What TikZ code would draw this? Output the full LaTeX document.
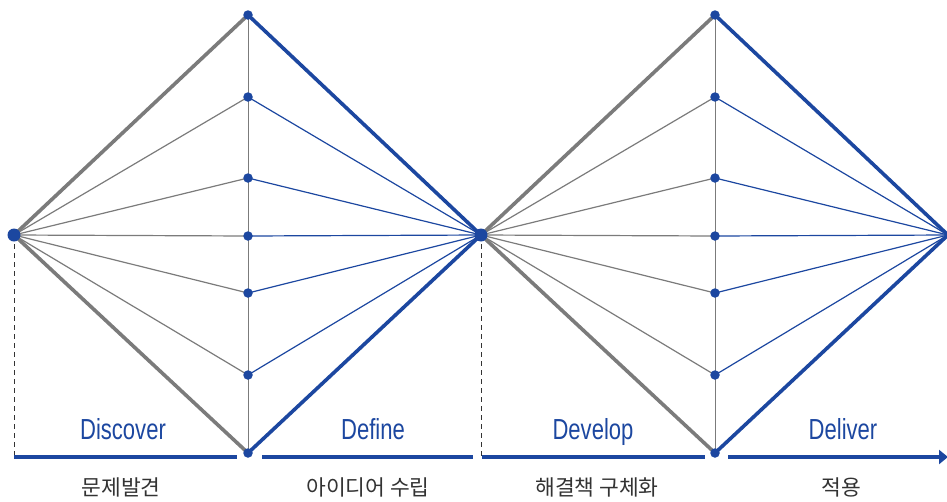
\documentclass[tikz,border=0pt]{standalone}
\usepackage{fontspec}
\setmainfont{Liberation Sans}
\newfontfamily\latn[FakeStretch=0.76]{Liberation Sans}
\newfontfamily\kor{Noto Sans CJK KR}
\usetikzlibrary{arrows.meta}
\definecolor{dblue}{HTML}{1C47A0}
\definecolor{lgray}{HTML}{7B7B7B}
\definecolor{tgray}{HTML}{333333}
\tikzset{
  thinfan/.style={line width=1.2pt},
  edge/.style={line width=3.6pt},
  grayline/.style={lgray},
  blueline/.style={dblue},
  axis/.style={line width=0.9pt, lgray},
  dotsm/.style={circle, fill=dblue, inner sep=0pt, minimum size=9.5pt},
  dotbig/.style={circle, fill=dblue, inner sep=0pt, minimum size=13pt},
  dashline/.style={line width=0.8pt, tgray, dash pattern=on 5pt off 4pt},
  bar/.style={line width=4.5pt, dblue},
  phase/.style={font=\latn\fontsize{29}{30}\selectfont, text=dblue, anchor=base, inner sep=0pt},
  korlabel/.style={font=\kor\fontsize{21.5}{22}\selectfont, text=tgray, inner sep=0pt}
}
\begin{document}
\begin{tikzpicture}[x=1pt,y=-1pt]
\useasboundingbox (0,0) rectangle (947,501);
% key points
\coordinate (L1) at (14,235);
\coordinate (M) at (481,235);
\coordinate (R) at (948,235);
\foreach \i/\y in {1/15,2/97,3/178,4/236,5/293,6/375,7/453}{
  \coordinate (A\i) at (248,\y);
  \coordinate (B\i) at (715,\y);
}
% vertical axes
\draw[axis] (A1) -- (A7);
\draw[axis] (B1) -- (B7);
% dashed guides
\coordinate (dL) at (14,456);
\coordinate (dM) at (481,456);
\draw[dashline] (L1) -- (dL);
\draw[dashline] (M) -- (dM);
% thin fans
\foreach \i in {2,...,6}{
  \draw[thinfan, grayline] (L1) -- (A\i);
  \draw[thinfan, blueline] (A\i) -- (M);
  \draw[thinfan, grayline] (M) -- (B\i);
  \draw[thinfan, blueline] (B\i) -- (R);
}
% thick edges
\draw[edge, grayline, line join=round] (A7) -- (L1) -- (A1);
\draw[edge, blueline, line join=round] (A1) -- (M) -- (A7);
\draw[edge, grayline, line join=round] (B7) -- (M) -- (B1);
\draw[edge, blueline, line join=round] (B1) -- (R) -- (B7);
% dots
\foreach \i in {1,...,7}{
  \node[dotsm] (dA\i) at (A\i) {};
  \node[dotsm] (dB\i) at (B\i) {};
}
\node[dotbig] (dL1) at (L1) {};
\node[dotbig] (dM) at (M) {};
% bottom bar
\coordinate (s1a) at (14,457); \coordinate (s1b) at (237,457);
\coordinate (s2a) at (262,457); \coordinate (s2b) at (473,457);
\coordinate (s3a) at (482,457); \coordinate (s3b) at (705,457);
\coordinate (s4a) at (728,457); \coordinate (s4b) at (947,457);
\draw[bar] (s1a) -- (s1b);
\draw[bar] (s2a) -- (s2b);
\draw[bar] (s3a) -- (s3b);
\draw[bar, -{Triangle[length=9pt,width=14pt]}, shorten >=-1pt] (s4a) -- (s4b);
% labels
\node[phase] (p1) at (123,439) {Discover};
\node[phase] (p2) at (373,439) {Define};
\node[phase] (p3) at (593,439) {Develop};
\node[phase] (p4) at (843,439) {Deliver};
\node[korlabel] (k1) at (121,487) {문제발견};
\node[korlabel] (k2) at (368,487) {아이디어 수립};
\node[korlabel] (k3) at (597,487) {해결책 구체화};
\node[korlabel] (k4) at (841,487) {적용};
\end{tikzpicture}
\end{document}
